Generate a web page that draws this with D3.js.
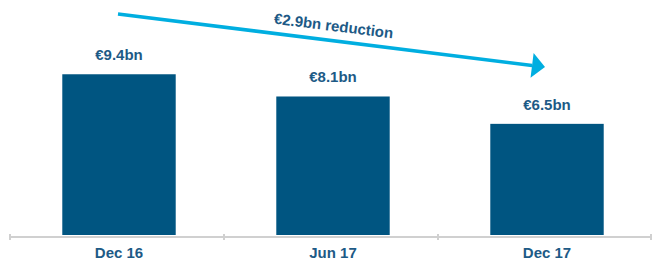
<html>
  <head>
    <script src="https://d3js.org/d3.v7.min.js"></script>
    <style>
      body { margin: 0; background: #fff; }
      text { font-family: "Liberation Sans", Arial, sans-serif; }
    </style>
  </head>
  <body>
    <script>
      // data
      var periods = ["Dec 16", "Jun 17", "Dec 17"];
      var values = [9.4, 8.1, 6.5];
      var valueLabels = ["€9.4bn", "€8.1bn", "€6.5bn"];
      var arrowLabel = "€2.9bn reduction";

      var width = 652, height = 260;
      var barColor = "#005581", textColor = "#1d5a86", arrowColor = "#00aee0";

      var svg = d3.select("body").append("svg")
                  .attr("width", width).attr("height", height);

      var x = d3.scaleBand().domain(periods).range([12, 654]).paddingInner(0.47).paddingOuter(0.235);
      var xAxisScale = d3.scaleBand().domain(periods).range([10, 652]);
      var y = d3.scaleLinear().domain([0, 10]).range([235, 64]);

      // bars
      svg.selectAll("rect.bar").data(values).enter().append("rect")
        .attr("class", "bar")
        .attr("x", function(d, i) { return x(periods[i]); })
        .attr("y", function(d) { return y(d); })
        .attr("width", x.bandwidth())
        .attr("height", function(d) { return y(0) - y(d); })
        .attr("fill", barColor);

      // value labels
      svg.selectAll("text.val").data(values).enter().append("text")
        .attr("class", "val")
        .attr("x", function(d, i) { return x(periods[i]) + x.bandwidth() / 2; })
        .attr("y", function(d) { return y(d) - 14; })
        .attr("text-anchor", "middle")
        .attr("font-size", "15px")
        .attr("font-weight", "bold")
        .attr("fill", textColor)
        .text(function(d, i) { return valueLabels[i]; });

      // x axis
      var axisY = 237;
      svg.append("line")
        .attr("x1", 10).attr("x2", 652).attr("y1", axisY).attr("y2", axisY)
        .attr("stroke", "#d0d0d0").attr("stroke-width", 2);
      var tickXs = periods.map(function(p) { return xAxisScale(p); }).concat([651]);
      svg.selectAll("line.tick").data(tickXs).enter().append("line")
        .attr("class", "tick")
        .attr("x1", function(d) { return d; }).attr("x2", function(d) { return d; })
        .attr("y1", axisY - 3).attr("y2", axisY + 3)
        .attr("stroke", "#d0d0d0").attr("stroke-width", 2);
      svg.selectAll("text.cat").data(periods).enter().append("text")
        .attr("class", "cat")
        .attr("x", function(d) { return x(d) + x.bandwidth() / 2; })
        .attr("y", 258)
        .attr("text-anchor", "middle")
        .attr("font-size", "15px")
        .attr("font-weight", "bold")
        .attr("fill", textColor)
        .text(function(d) { return d; });

      // reduction arrow
      var ax0 = 118, ay0 = 14, ax1 = 545, ay1 = 67;
      var ang = Math.atan2(ay1 - ay0, ax1 - ax0);
      var headLen = 13, headHalf = 12.5;
      var bx = ax1 - headLen * Math.cos(ang), by = ay1 - headLen * Math.sin(ang);
      svg.append("line")
        .attr("x1", ax0).attr("y1", ay0).attr("x2", bx).attr("y2", by)
        .attr("stroke", arrowColor).attr("stroke-width", 3.5);
      svg.append("path")
        .attr("d", "M" + ax1 + "," + ay1 +
                   "L" + (bx - headHalf * Math.sin(ang)) + "," + (by + headHalf * Math.cos(ang)) +
                   "L" + (bx + headHalf * Math.sin(ang)) + "," + (by - headHalf * Math.cos(ang)) + "Z")
        .attr("fill", arrowColor);
      svg.append("text")
        .attr("transform", "translate(333,31) rotate(" + (ang * 180 / Math.PI) + ")")
        .attr("text-anchor", "middle")
        .attr("font-size", "15px")
        .attr("font-weight", "bold")
        .attr("fill", textColor)
        .text(arrowLabel);
    </script>
  </body>
</html>
